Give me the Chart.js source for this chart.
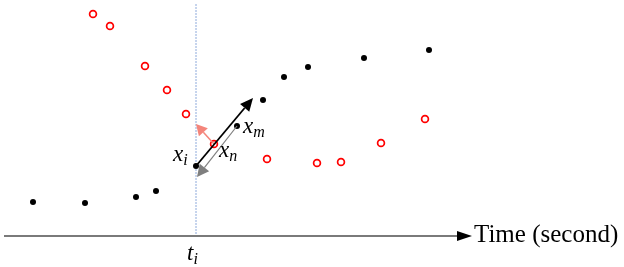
<!DOCTYPE html>
<html>
<head>
<meta charset="utf-8">
<script src="https://cdn.jsdelivr.net/npm/chart.js@4"></script>
<style>
  body { margin: 0; background: #fff; }
  #wrap { width: 624px; height: 267px; position: relative; }
</style>
</head>
<body>
<div id="wrap"><canvas id="chart"></canvas></div>
<script>
// Pontos observados (preto) e pontos de referência (vermelho)
const blackTime = [33, 85, 136, 156, 196, 237, 263, 284, 308, 364, 429];
const blackValue = [34, 33, 39, 45, 70, 110, 136, 159, 169, 178, 186];
const redTime = [93, 110, 145, 167, 186, 214, 267, 317, 341, 381, 425];
const redValue = [222, 210, 170, 146, 122, 92, 77, 73, 74, 93, 117];

// Instante marcado no eixo
const tickTime = [196];
const tickLabel = ['t', 'i'];
const axisTitle = 'Time (second)';

// Setas: ponto de partida (indices) e ponta (valores)
const arrowBlackTip = [253, 138];
const arrowGreyTip = [197, 59];
const arrowRedTip = [196, 112];
const idxXi = 4, idxXm = 5, idxXn = 5;

function toPoints(xs, ys) {
    return xs.map((x, i) => ({ x: x, y: ys[i] }));
}

function drawArrow(ctx, x1, y1, x2, y2, color, width, headLen, headW) {
    const ang = Math.atan2(y2 - y1, x2 - x1);
    const bx = x2 - headLen * Math.cos(ang);
    const by = y2 - headLen * Math.sin(ang);
    ctx.save();
    ctx.strokeStyle = color;
    ctx.fillStyle = color;
    ctx.lineWidth = width;
    ctx.beginPath();
    ctx.moveTo(x1, y1);
    ctx.lineTo(bx, by);
    ctx.stroke();
    ctx.beginPath();
    ctx.moveTo(x2, y2);
    ctx.lineTo(bx + headW * Math.sin(ang), by - headW * Math.cos(ang));
    ctx.lineTo(bx - headW * Math.sin(ang), by + headW * Math.cos(ang));
    ctx.closePath();
    ctx.fill();
    ctx.restore();
}

function drawSub(ctx, base, sub, x, y) {
    ctx.save();
    ctx.fillStyle = '#000';
    ctx.textBaseline = 'alphabetic';
    ctx.textAlign = 'left';
    ctx.font = 'italic 23px "Liberation Serif"';
    ctx.fillText(base, x, y);
    const w = ctx.measureText(base).width;
    ctx.font = 'italic 16px "Liberation Serif"';
    ctx.fillText(sub, x + w, y + 4);
    ctx.restore();
}

const overlay = {
    id: 'overlay',
    beforeDatasetsDraw(chart) {
        const ctx = chart.ctx;
        const xs = chart.scales.x, ys = chart.scales.y;
        const y0 = ys.getPixelForValue(0);
        // linha vertical pontilhada em t_i
        const tx = xs.getPixelForValue(tickTime[0]);
        ctx.save();
        ctx.strokeStyle = '#8eaadb';
        ctx.lineWidth = 1;
        ctx.setLineDash([2, 1]);
        ctx.beginPath();
        ctx.moveTo(tx, ys.getPixelForValue(232));
        ctx.lineTo(tx, y0);
        ctx.stroke();
        ctx.restore();
        // eixo do tempo
        ctx.save();
        ctx.strokeStyle = '#7a7a7a';
        ctx.lineWidth = 2;
        ctx.beginPath();
        ctx.moveTo(xs.getPixelForValue(4), y0);
        ctx.lineTo(xs.getPixelForValue(460), y0);
        ctx.stroke();
        ctx.fillStyle = '#000';
        ctx.beginPath();
        ctx.moveTo(xs.getPixelForValue(472), y0);
        ctx.lineTo(xs.getPixelForValue(457), y0 - 5);
        ctx.lineTo(xs.getPixelForValue(457), y0 + 5);
        ctx.closePath();
        ctx.fill();
        ctx.font = '25px "Liberation Serif"';
        ctx.textBaseline = 'alphabetic';
        ctx.fillText(axisTitle, xs.getPixelForValue(474), y0 + 6);
        ctx.restore();
        drawSub(ctx, tickLabel[0], tickLabel[1], tx - 9, y0 + 24);
    },
    afterDatasetsDraw(chart) {
        const ctx = chart.ctx;
        const xs = chart.scales.x, ys = chart.scales.y;
        const px = (t, v) => [xs.getPixelForValue(t), ys.getPixelForValue(v)];
        const xi = px(blackTime[idxXi], blackValue[idxXi]);
        const xm = px(blackTime[idxXm], blackValue[idxXm]);
        const xn = px(redTime[idxXn], redValue[idxXn]);
        const tb = px(arrowBlackTip[0], arrowBlackTip[1]);
        const tg = px(arrowGreyTip[0], arrowGreyTip[1]);
        const tr = px(arrowRedTip[0], arrowRedTip[1]);
        drawArrow(ctx, xm[0], xm[1], tg[0], tg[1], '#7f7f7f', 1.2, 12, 6);
        drawArrow(ctx, xn[0], xn[1], tr[0], tr[1], '#f4857b', 1.5, 11, 6);
        drawArrow(ctx, xi[0], xi[1], tb[0], tb[1], '#000', 1.8, 13, 6);
        drawSub(ctx, 'x', 'i', xi[0] - 23, xi[1] - 5);
        drawSub(ctx, 'x', 'm', xm[0] + 6, xm[1] + 7);
        drawSub(ctx, 'x', 'n', xn[0] + 5, xn[1] + 13);
    }
};

const ctx = document.getElementById('chart').getContext('2d');
window.timeChart = new Chart(ctx, {
    type: 'scatter',
    data: {
        datasets: [{
            data: toPoints(redTime, redValue),
            pointRadius: 3.4,
            borderWidth: 1.7,
            borderColor: '#ff0000',
            backgroundColor: '#ffffff'
        }, {
            data: toPoints(blackTime, blackValue),
            pointRadius: 3,
            borderWidth: 0,
            backgroundColor: '#000000'
        }]
    },
    options: {
        responsive: true,
        maintainAspectRatio: false,
        animation: false,
        layout: { padding: 0, autoPadding: false },
        plugins: { legend: { display: false }, tooltip: { enabled: false } },
        scales: {
            x: { type: 'linear', min: 0, max: 624, display: false },
            y: { min: -31, max: 236, display: false }
        }
    },
    plugins: [overlay]
});
</script>
</body>
</html>
